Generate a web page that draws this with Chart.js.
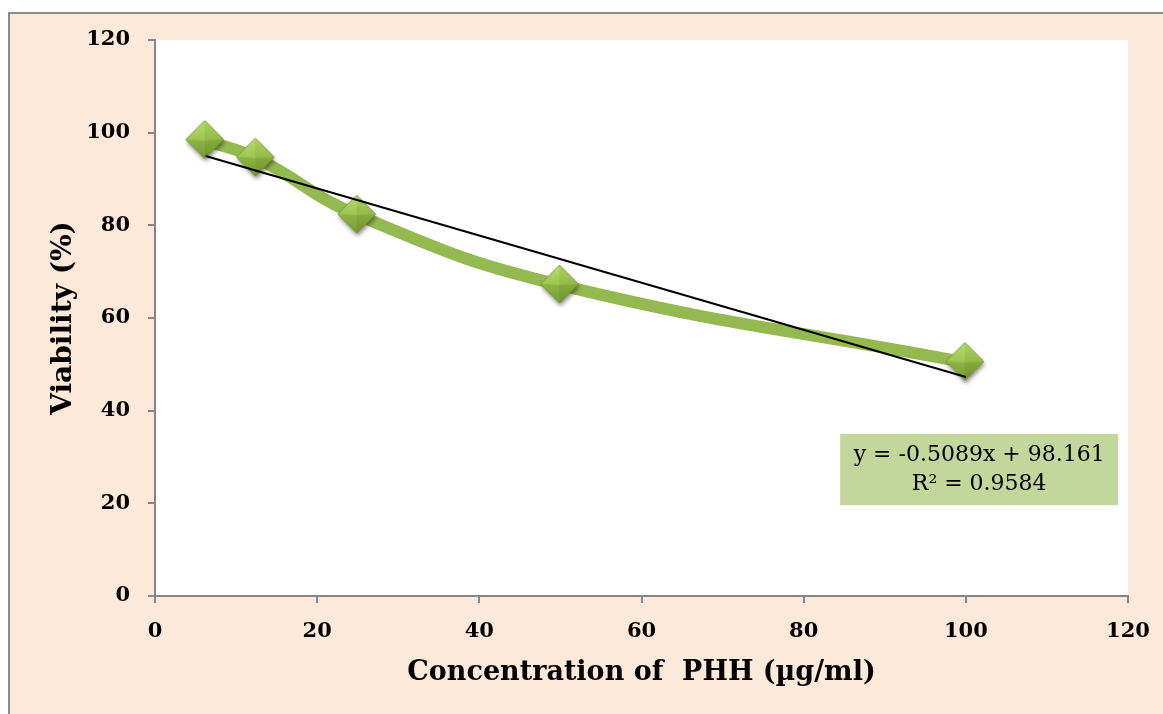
<!DOCTYPE html>
<html>
<head>
<meta charset="utf-8">
<script src="https://cdn.jsdelivr.net/npm/chart.js@4/dist/chart.umd.min.js"></script>
<style>
  html, body { margin: 0; padding: 0; background: #ffffff; overflow: hidden; }
  #frame { position: absolute; left: 8px; top: 12px; width: 1170px; height: 720px;
           border: 2px solid #8c8c8c; background: #fde9d9; box-sizing: border-box; }
  #wrap { position: absolute; left: 0; top: 0; width: 1163px; height: 714px; }
</style>
</head>
<body>
<div id="frame"></div>
<div id="wrap"><canvas id="c" width="1163" height="714"></canvas></div>
<script>
// ---- data ----
const concentrations = [6.25, 12.5, 25, 50, 100];
const viability = [98.3, 94.5, 82.2, 67.1, 50.4];
const trendX = [6.25, 100];
const trendY = [94.98, 47.27];
const xTicks = [0, 20, 40, 60, 80, 100, 120];
const yTicks = [0, 20, 40, 60, 80, 100, 120];
const equationLines = ['y = -0.5089x + 98.161', 'R\u00B2 = 0.9584'];
const xTitle = 'Concentration of  PHH (\u00B5g/ml)';
const yTitle = 'Viability (%)';

// ---- diamond marker image ----
function makeDiamond() {
  const s = 48, c = 23, r = 19;
  const cv = document.createElement('canvas');
  cv.width = s; cv.height = s;
  const g = cv.getContext('2d');
  g.save();
  g.shadowColor = 'rgba(0,0,0,0.45)';
  g.shadowBlur = 4; g.shadowOffsetX = 1; g.shadowOffsetY = 3;
  g.beginPath();
  g.moveTo(c, c - r); g.lineTo(c + r, c); g.lineTo(c, c + r); g.lineTo(c - r, c); g.closePath();
  g.fillStyle = '#8fb445'; g.fill();
  g.restore();
  const T = [c, c - r], R = [c + r, c], B = [c, c + r], L = [c - r, c], C = [c, c + 1];
  function tri(a, b, d, col) {
    g.beginPath(); g.moveTo(a[0], a[1]); g.lineTo(b[0], b[1]); g.lineTo(d[0], d[1]); g.closePath();
    g.fillStyle = col; g.fill();
  }
  const gt = g.createLinearGradient(0, c - r, 0, c);
  gt.addColorStop(0, '#b7dc6c'); gt.addColorStop(1, '#9ec652');
  tri(L, T, C, gt);
  const gt2 = g.createLinearGradient(0, c - r, 0, c);
  gt2.addColorStop(0, '#aad25f'); gt2.addColorStop(1, '#93bb48');
  tri(T, R, C, gt2);
  const gb = g.createLinearGradient(0, c, 0, c + r);
  gb.addColorStop(0, '#87ac3e'); gb.addColorStop(1, '#6f9030');
  tri(R, B, C, gb);
  const gb2 = g.createLinearGradient(0, c, 0, c + r);
  gb2.addColorStop(0, '#8fb545'); gb2.addColorStop(1, '#789a35');
  tri(B, L, C, gb2);
  g.beginPath();
  g.moveTo(T[0], T[1]); g.lineTo(R[0], R[1]); g.lineTo(B[0], B[1]); g.lineTo(L[0], L[1]); g.closePath();
  g.strokeStyle = 'rgba(110,140,50,0.8)'; g.lineWidth = 0.8; g.stroke();
  return cv;
}
const diamond = makeDiamond();

const equationBox = {
  id: 'equationBox',
  afterDatasetsDraw(chart) {
    const { ctx, scales: { x, y } } = chart;
    const x0 = x.getPixelForValue(84.5), x1 = x.getPixelForValue(118.8);
    const y0 = y.getPixelForValue(35.0), y1 = y.getPixelForValue(19.6);
    ctx.save();
    ctx.fillStyle = '#c3d69b';
    ctx.fillRect(x0, y0, x1 - x0, y1 - y0);
    ctx.fillStyle = '#000';
    ctx.font = '22px "DejaVu Serif"';
    ctx.textAlign = 'center';
    ctx.textBaseline = 'middle';
    const cx = (x0 + x1) / 2;
    ctx.fillText(equationLines[0], cx, y0 + 21);
    ctx.fillText(equationLines[1], cx, y0 + 50);
    ctx.restore();
  }
};

const axisColor = '#868686';
const tickFont = { family: 'DejaVu Serif', size: 21, weight: 'bold' };

new Chart(document.getElementById('c'), {
  type: 'scatter',
  data: {
    datasets: [
      {
        label: 'Linear trend',
        data: trendX.map((v, i) => ({ x: v, y: trendY[i] })),
        showLine: true,
        borderColor: '#000000',
        borderWidth: 2,
        pointRadius: 0,
        tension: 0
      },
      {
        label: 'Viability',
        data: concentrations.map((v, i) => ({ x: v, y: viability[i] })),
        showLine: true,
        borderColor: '#95b951',
        borderWidth: 12,
        tension: 0.45,
        pointStyle: diamond,
        pointRadius: 19
      }
    ]
  },
  options: {
    responsive: false,
    animation: false,
    layout: { padding: { left: 47, top: 40, right: 35, bottom: 25 } },
    plugins: { legend: { display: false }, tooltip: { enabled: false } },
    scales: {
      x: {
        type: 'linear', min: 0, max: 120,
        afterBuildTicks(s) { s.ticks = xTicks.map(v => ({ value: v })); },
        afterFit(s) { s.height = 93; s.paddingRight = 10; s.paddingLeft = 10; },
        ticks: { font: tickFont, color: '#000', padding: 16, maxRotation: 0 },
        grid: { drawOnChartArea: false, drawTicks: true, tickLength: 7, color: axisColor, lineWidth: 2 },
        border: { display: true, color: axisColor, width: 2 },
        title: { display: true, text: xTitle, color: '#000', padding: 0,
                 font: { family: 'DejaVu Serif', size: 27, weight: 'bold' } }
      },
      y: {
        type: 'linear', min: 0, max: 120,
        afterBuildTicks(s) { s.ticks = yTicks.map(v => ({ value: v })); },
        afterFit(s) { s.width = 108; s.paddingTop = 10; s.paddingBottom = 10; },
        ticks: { font: tickFont, color: '#000', padding: 18 },
        grid: { drawOnChartArea: false, drawTicks: true, tickLength: 7, color: axisColor, lineWidth: 2 },
        border: { display: true, color: axisColor, width: 2 },
        title: { display: true, text: yTitle, color: '#000', padding: 0,
                 font: { family: 'DejaVu Serif', size: 28, weight: 'bold' } }
      }
    }
  },
  plugins: [{
    id: 'plotBg',
    beforeDraw(chart) {
      const { ctx, chartArea: a } = chart;
      ctx.save(); ctx.fillStyle = '#ffffff';
      ctx.fillRect(a.left, a.top, a.right - a.left, a.bottom - a.top);
      ctx.restore();
    }
  }, equationBox]
});
</script>
</body>
</html>
